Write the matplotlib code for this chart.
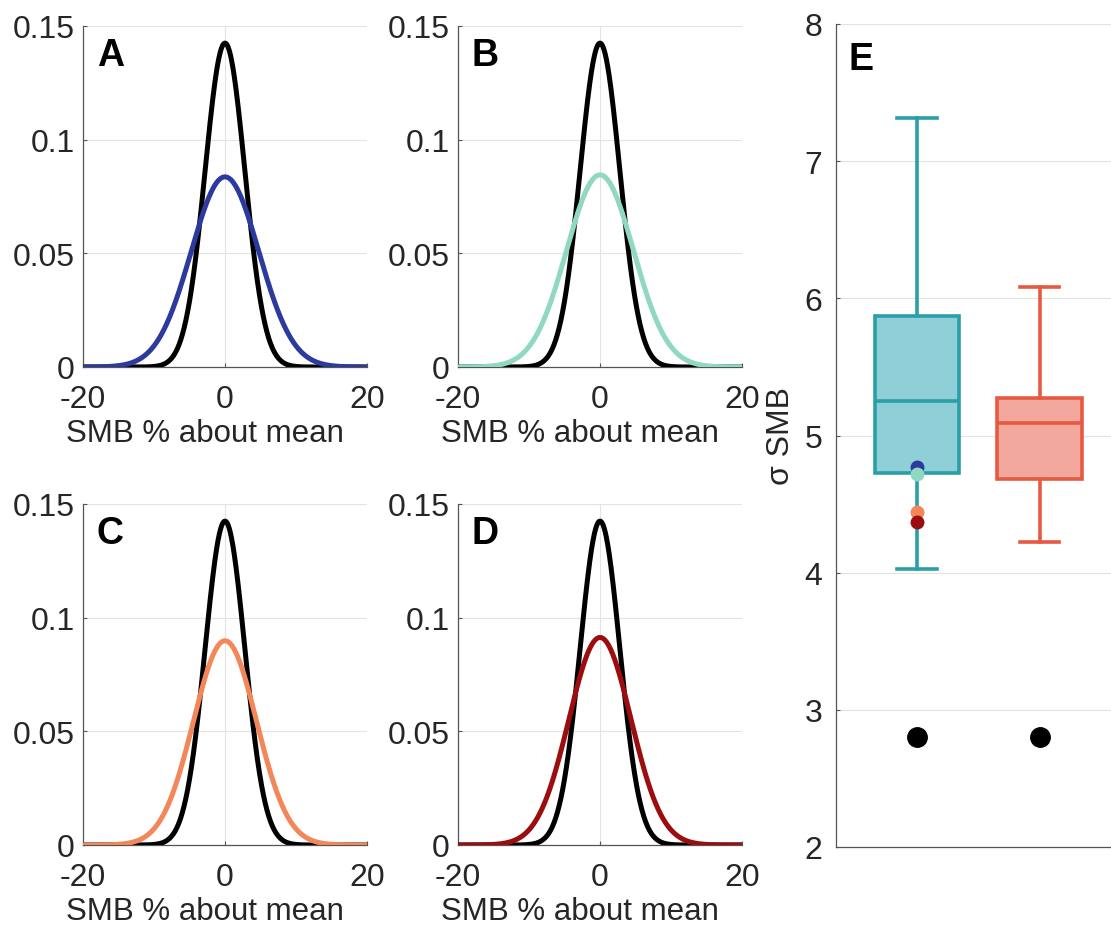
import numpy as np
import matplotlib
matplotlib.use('Agg')
import matplotlib.pyplot as plt

plt.rcParams['font.family'] = ['Liberation Sans', 'DejaVu Sans']
plt.rcParams['axes.unicode_minus'] = False

# standard deviation of SMB (% about mean): observed vs. four models
obs_sigma = 2.8
panel_labels = ['A', 'B', 'C', 'D']
model_sigma = [4.77, 4.72, 4.44, 4.37]
model_colors = ['#2b3a9c', '#8fd8c2', '#f4875a', '#9c0d0f']

# box plot summaries (panel E)
box_lo = [4.03, 4.22]
box_q1 = [4.73, 4.68]
box_med = [5.25, 5.09]
box_q3 = [5.87, 5.27]
box_hi = [7.315, 6.08]
box_edge = ['#2a9fa8', '#e65a42']
box_fill = ['#8fd0d8', '#f3a89d']

W, H = 1111, 929
FS = 23
TXT = '#262626'
fig = plt.figure(figsize=(W / 100, H / 100), dpi=100)

pos = [(83, 27), (458, 27), (83, 505), (458, 505)]
x = np.linspace(-20, 20, 801)
for (l, t), lab, s, c in zip(pos, panel_labels, model_sigma, model_colors):
    ax = fig.add_axes([l / W, 1 - (t + 341) / H, 284 / W, 341 / H])
    ax.plot(x, np.exp(-x**2 / (2 * obs_sigma**2)) / (obs_sigma * np.sqrt(2 * np.pi)),
            color='black', lw=3.6, zorder=3)
    ax.plot(x, np.exp(-x**2 / (2 * s**2)) / (s * np.sqrt(2 * np.pi)),
            color=c, lw=3.6, zorder=4)
    ax.set_xlim(-20, 20)
    ax.set_ylim(0, 0.15)
    ax.set_xticks([-20, 0, 20])
    ax.set_yticks([0, 0.05, 0.1, 0.15])
    ax.set_yticklabels(['0', '0.05', '0.1', '0.15'])
    ax.grid(True, color='#e3e3e3', lw=0.8)
    ax.set_axisbelow(True)
    for sp in ['top', 'right']:
        ax.spines[sp].set_visible(False)
    for sp in ['left', 'bottom']:
        ax.spines[sp].set_color('#555555')
        ax.spines[sp].set_linewidth(0.9)
    ax.tick_params(labelsize=FS, direction='in', length=3, colors='#555555',
                   labelcolor=TXT)
    ax.tick_params(axis='y', pad=6)
    ax.tick_params(axis='x', pad=12)
    ax.set_xlabel('SMB % about mean', fontsize=FS - 0.5, color=TXT)
    ax.xaxis.set_label_coords(0.5 - 20 / 284, -0.15)
    ax.xaxis.label.set_va('top')
    ax.text(0.049, 0.967, lab, transform=ax.transAxes, fontsize=27,
            fontweight='heavy', va='top', ha='left')

# panel E
axE = fig.add_axes([836 / W, 1 - 848 / H, 275 / W, 823 / H])
stats = []
for i in range(2):
    stats.append(dict(whislo=box_lo[i], q1=box_q1[i], med=box_med[i],
                      q3=box_q3[i], whishi=box_hi[i], fliers=[]))
bp = axE.bxp(stats, positions=[1, 2], widths=0.69, patch_artist=True,
             showfliers=False)
for i in range(2):
    bp['boxes'][i].set_facecolor(box_fill[i])
    bp['boxes'][i].set_edgecolor(box_edge[i])
    bp['boxes'][i].set_linewidth(2.6)
    bp['medians'][i].set_color(box_edge[i])
    bp['medians'][i].set_linewidth(2.6)
    for k in (2 * i, 2 * i + 1):
        bp['whiskers'][k].set_color(box_edge[i])
        bp['whiskers'][k].set_linewidth(2.6)
        bp['caps'][k].set_color(box_edge[i])
        bp['caps'][k].set_linewidth(2.6)
        bp['caps'][k].set_xdata([1 + i - 0.16, 1 + i + 0.16])

for s, c in zip(model_sigma, model_colors):
    axE.plot(1, s, 'o', color=c, ms=9, zorder=5)
axE.plot([1, 2], [obs_sigma, obs_sigma], 'o', color='black', ms=14, zorder=5)

axE.set_xlim(0.34, 2.58)
axE.set_ylim(2, 8)
axE.set_yticks([2, 3, 4, 5, 6, 7, 8])
axE.set_xticks([])
axE.grid(True, axis='y', color='#e3e3e3', lw=0.8)
axE.set_axisbelow(True)
for sp in ['top', 'right']:
    axE.spines[sp].set_visible(False)
for sp in ['left', 'bottom']:
    axE.spines[sp].set_color('#555555')
    axE.spines[sp].set_linewidth(0.9)
axE.tick_params(labelsize=FS, direction='in', length=3, pad=10,
                colors='#555555', labelcolor=TXT)
axE.set_ylabel('σ SMB', fontsize=FS, labelpad=6, color=TXT)
axE.text(0.044, 0.979, 'E', transform=axE.transAxes, fontsize=27,
         fontweight='heavy', va='top', ha='left')

fig.savefig('out.png', dpi=100)
